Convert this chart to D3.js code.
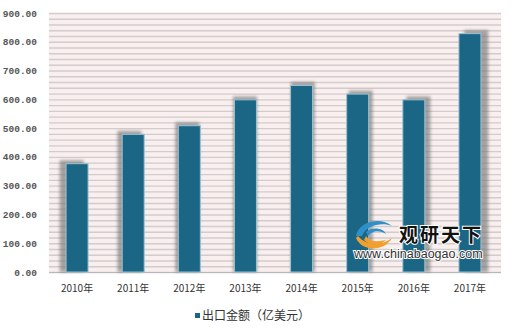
<!DOCTYPE html>
<html>
<head>
<meta charset="utf-8">
<script src="https://cdn.jsdelivr.net/npm/d3@7"></script>
<style>
  body { margin: 0; background: #fff; }
  svg { display: block; }
</style>
</head>
<body>
<div id="chart"></div>
<script>
var years = ["2010年", "2011年", "2012年", "2013年", "2014年", "2015年", "2016年", "2017年"];
var exportValues = [378, 480, 510, 600, 650, 620, 600, 830];
var yTicks = [0, 100, 200, 300, 400, 500, 600, 700, 800, 900];
var seriesName = "出口金额（亿美元）";

var width = 520, height = 332;
var plotLeft = 49, plotRight = 501, plotTop = 13, plotBottom = 272;

var svg = d3.select("#chart").append("svg")
    .attr("width", width).attr("height", height);

var defs = svg.append("defs");
defs.append("filter").attr("id", "blur")
    .attr("x", "-50%").attr("y", "-50%").attr("width", "200%").attr("height", "200%")
  .append("feGaussianBlur").attr("stdDeviation", 1.6);

var x = d3.scaleBand().domain(years).range([plotLeft, plotRight - 3]).paddingInner(0.59).paddingOuter(0.295);
var y = d3.scaleLinear().domain([0, 900]).range([plotBottom, plotTop]);

// plot background with stripes
svg.append("rect")
    .attr("x", plotLeft).attr("y", plotTop)
    .attr("width", plotRight - plotLeft).attr("height", plotBottom - plotTop)
    .attr("fill", "#f9efef");

svg.append("g").selectAll("line")
    .data(d3.range(0, 901, 20))
    .join("line")
    .attr("x1", plotLeft).attr("x2", plotRight)
    .attr("y1", function(d) { return y(d) + 0.5; })
    .attr("y2", function(d) { return y(d) + 0.5; })
    .attr("stroke", "#d2cccc")
    .attr("stroke-width", 1.4);

// y labels
svg.append("g").selectAll("text")
    .data(yTicks)
    .join("text")
    .attr("x", 37)
    .attr("y", function(d) { return y(d) + 3.5; })
    .attr("text-anchor", "end")
    .attr("font-family", "Liberation Mono, DejaVu Sans Mono, monospace")
    .attr("font-size", 9.5)
    .attr("font-weight", "bold")
    .attr("fill", "#555")
    .text(function(d) { return d3.format(".2f")(d); });

// baseline
svg.append("line")
    .attr("x1", plotLeft).attr("x2", plotRight)
    .attr("y1", plotBottom + 0.5).attr("y2", plotBottom + 0.5)
    .attr("stroke", "#b8b8b8");

var mid = (plotLeft + plotRight) / 2;

// shadows
svg.append("g").selectAll("rect")
    .data(exportValues)
    .join("rect")
    .attr("x", function(d, i) {
        var cx = x(years[i]) + x.bandwidth() / 2;
        return x(years[i]) + (cx - mid) * 0.03;
    })
    .attr("y", function(d) { return y(d) - 3; })
    .attr("width", x.bandwidth() + 1)
    .attr("height", function(d) { return plotBottom - y(d) + 3; })
    .attr("fill", "#6e6e6e")
    .attr("opacity", 0.6)
    .attr("filter", "url(#blur)");

// bars
svg.append("g").selectAll("rect")
    .data(exportValues)
    .join("rect")
    .attr("x", function(d, i) { return x(years[i]) + 0.5; })
    .attr("y", function(d) { return y(d) + 0.5; })
    .attr("width", x.bandwidth() - 1)
    .attr("height", function(d) { return plotBottom - y(d) - 0.5; })
    .attr("fill", "#1b6585")
    .attr("stroke", "#9cc3d3")
    .attr("stroke-width", 1);

// x labels
svg.append("g").selectAll("text")
    .data(years)
    .join("text")
    .attr("x", function(d) { return x(d) + x.bandwidth() / 2; })
    .attr("y", 292)
    .attr("text-anchor", "middle")
    .attr("font-family", "Noto Sans CJK SC, sans-serif")
    .attr("font-size", 10)
    .attr("fill", "#333")
    .text(function(d) { return d; });

// legend
var legend = svg.append("g");
legend.append("rect")
    .attr("x", 195).attr("y", 313).attr("width", 5).attr("height", 5)
    .attr("fill", "#1b6585");
legend.append("text")
    .attr("x", 202).attr("y", 320)
    .attr("font-family", "Noto Sans CJK SC, sans-serif")
    .attr("font-size", 12)
    .attr("fill", "#333")
    .text(seriesName);

// watermark
var wm = svg.append("g");
wm.append("path")
    .attr("d", "M356,236 C358,222 380,216 392,226 C384,222 366,224 362,236 Z")
    .attr("fill", "#2f8fc8");
wm.append("path")
    .attr("d", "M356,238 C362,252 384,252 392,238 C382,246 366,246 358,236 Z")
    .attr("fill", "#f0a030");
wm.append("path")
    .attr("d", "M366,232 C372,226 384,228 386,234 C380,230 372,230 368,236 Z")
    .attr("fill", "#2f8fc8");
wm.append("path")
    .attr("d", "M364,240 C370,246 380,246 386,240 C378,242 370,242 366,236 Z")
    .attr("fill", "#f0a030");
wm.append("text")
    .attr("x", 399).attr("y", 242)
    .attr("font-family", "Noto Sans CJK SC, sans-serif")
    .attr("font-size", 19)
    .attr("font-weight", "bold")
    .attr("letter-spacing", 2)
    .attr("fill", "#111")
    .attr("stroke", "#fff").attr("stroke-width", 2).attr("paint-order", "stroke")
    .text("观研天下");
wm.append("text")
    .attr("x", 354).attr("y", 258)
    .attr("font-family", "Liberation Sans, Arial, sans-serif")
    .attr("font-size", 12.5)
    .attr("fill", "#333")
    .attr("stroke", "#fff").attr("stroke-width", 2).attr("paint-order", "stroke")
    .text("www.chinabaogao.com");
</script>
</body>
</html>
